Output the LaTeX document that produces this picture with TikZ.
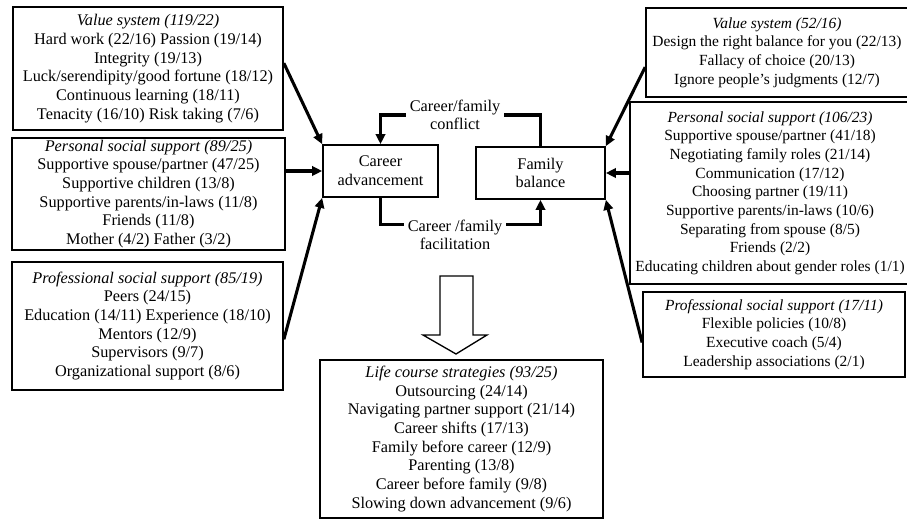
\documentclass[tikz,border=0pt]{standalone}
\usepackage{fontspec}
\setmainfont{Liberation Serif}
\usetikzlibrary{arrows.meta}
\tikzset{
  txt_n/.style = {align=center, inner sep=0pt, text centered, font=\fontsize{12.2}{14}\selectfont},
  grp_box/.style = {txt_n, rectangle, draw=black, line width=1.3pt},
  grp_box_r/.style = {grp_box, font=\fontsize{11.6}{14}\selectfont},
  core_box/.style = {txt_n, rectangle, draw=black, line width=1.3pt},
  lbl_n/.style = {txt_n, fill=white, inner sep=3pt},
  link/.style = {line width=2.3pt},
  conn/.style = {link, -{Triangle[length=7.5pt,width=7pt]}},
}
\newcommand{\hd}[1]{\textit{#1}}

\begin{document}
\begin{tikzpicture}[x=0.75pt, y=-0.75pt]
  \useasboundingbox (0,0) rectangle (907,520);

  % career side
  \node [grp_box, minimum width=202.5pt, minimum height=92.25pt] (lvs) at (148,68.5)
    {\hd{Value system (119/22)}\\ Hard work (22/16) Passion (19/14)\\ Integrity (19/13)\\
     Luck/serendipity/good fortune (18/12)\\ Continuous learning (18/11)\\
     Tenacity (16/10) Risk taking (7/6)};
  \node [grp_box, minimum width=204.75pt, minimum height=84pt] (lpss) at (148.5,194)
    {\hd{Personal social support (89/25)}\\ Supportive spouse/partner (47/25)\\
     Supportive children (13/8)\\ Supportive parents/in-laws (11/8)\\ Friends (11/8)\\
     Mother (4/2) Father (3/2)};
  \node [grp_box, minimum width=203.25pt, minimum height=96pt] (lpro) at (147.5,326)
    {\hd{Professional social support (85/19)}\\ Peers (24/15)\\
     Education (14/11) Experience (18/10)\\ Mentors (12/9)\\ Supervisors (9/7)\\
     Organizational support (8/6)};

  % the two outcomes
  \node [core_box, minimum width=86.25pt, minimum height=39pt] (career) at (380.5,171)
    {Career\\ advancement};
  \node [core_box, minimum width=96.75pt, minimum height=39pt] (family) at (540.5,173)
    {Family\\ balance};

  % family side
  \node [grp_box_r, minimum width=196.5pt, minimum height=66.75pt] (rvs) at (777,52.5)
    {\hd{Value system (52/16)}\\ Design the right balance for you (22/13)\\
     Fallacy of choice (20/13)\\ Ignore people's judgments (12/7)};
  \node [grp_box_r, minimum width=210pt, minimum height=136.5pt] (rpss) at (770,193)
    {\hd{Personal social support (106/23)}\\ Supportive spouse/partner (41/18)\\
     Negotiating family roles (21/14)\\ Communication (17/12)\\ Choosing partner (19/11)\\
     Supportive parents/in-laws (10/6)\\ Separating from spouse (8/5)\\ Friends (2/2)\\
     Educating children about gender roles (1/1)};
  \node [grp_box_r, minimum width=196.5pt, minimum height=63.75pt] (rpro) at (774,334.5)
    {\hd{Professional social support (17/11)}\\ Flexible policies (10/8)\\
     Executive coach (5/4)\\ Leadership associations (2/1)};

  \node [grp_box, minimum width=212.25pt, minimum height=118.5pt] (life) at (461.5,439)
    {\hd{Life course strategies (93/25)}\\ Outsourcing (24/14)\\
     Navigating partner support (21/14)\\ Career shifts (17/13)\\
     Family before career (12/9)\\ Parenting (13/8)\\ Career before family (9/8)\\
     Slowing down advancement (9/6)};

  % spillover between the two
  \node [lbl_n] (conflict) at (455,115) {Career/family\\ conflict};
  \node [lbl_n] (facil) at (455,235) {Career /family\\ facilitation};
  \draw [link] (family.north) |- (conflict.east);
  \draw [conn] (conflict.west) -| (career.north);
  \draw [link] (career.south) |- ([yshift=8pt]facil.west);
  \draw [conn] ([yshift=8pt]facil.east) -| (family.south);

  % inputs
  \draw [conn] ([yshift=4pt]lvs.east) -- (career.north west);
  \draw [conn] (career.west -| lpss.east) -- (career.west);
  \draw [conn] ([yshift=-10pt]lpro.east) -- (career.south west);
  \draw [conn] ([yshift=-11pt]rvs.west) -- (family.north east);
  \draw [conn] (family.east -| rpss.west) -- (family.east);
  \draw [conn] ([yshift=-6pt]rpro.west) -- (family.south east);

  % hollow arrow down to the strategies
  \draw [line width=1pt] (440,276) -- (473,276) -- (473,335) -- (487,335)
    -- (456,354) -- (423,335) -- (440,335) -- cycle;
\end{tikzpicture}
\end{document}
